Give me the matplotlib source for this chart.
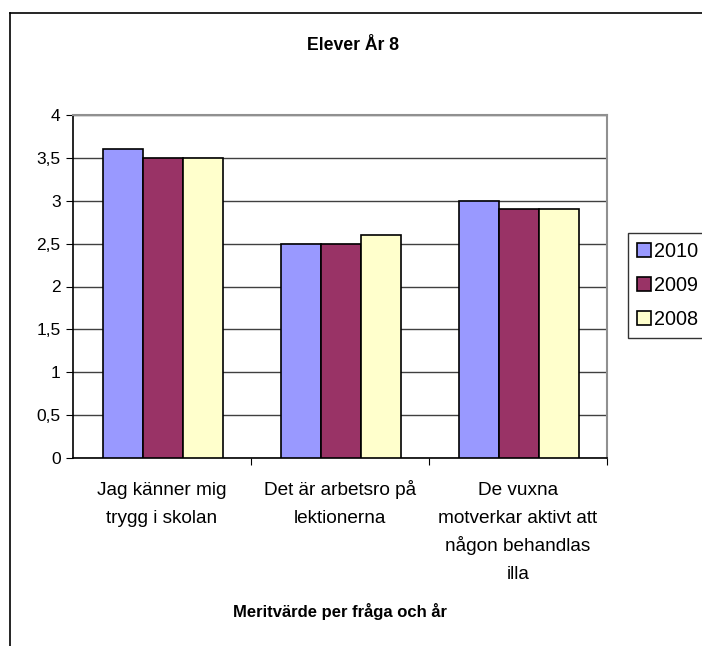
import matplotlib
matplotlib.use("Agg")
import matplotlib.pyplot as plt
from matplotlib.lines import Line2D
import numpy as np

plt.rcParams['font.family'] = ['Liberation Sans', 'DejaVu Sans']

# データ
categories = ["Jag känner mig\ntrygg i skolan",
              "Det är arbetsro på\nlektionerna",
              "De vuxna\nmotverkar aktivt att\nnågon behandlas\nilla"]
years = ["2010", "2009", "2008"]
values = {
    "2010": [3.6, 2.5, 3.0],
    "2009": [3.5, 2.5, 2.9],
    "2008": [3.5, 2.6, 2.9],
}
colors = {"2010": "#9999FF", "2009": "#993366", "2008": "#FFFFCC"}
yticks = [0, 0.5, 1, 1.5, 2, 2.5, 3, 3.5, 4]
yticklabels = ["0", "0,5", "1", "1,5", "2", "2,5", "3", "3,5", "4"]

W, H = 702, 646
fig = plt.figure(figsize=(W / 100, H / 100), dpi=100)

# 外枠
fig.add_artist(Line2D([10 / W, 10 / W], [0, 1 - 13 / H], color="black", lw=1.2))
fig.add_artist(Line2D([10 / W, 1], [1 - 13 / H, 1 - 13 / H], color="black", lw=1.2))

ax = fig.add_axes([73 / W, (H - 458) / H, 534 / W, 343 / H])

x = np.arange(len(categories))
bw = 0.225
for i, y in enumerate(years):
    ax.bar(x + (i - 1) * bw + 0.005, values[y], bw, color=colors[y], edgecolor="black",
           linewidth=1.2, label=y, zorder=3)

ax.set_xlim(-0.5, 2.5)
ax.set_ylim(0, 4)
ax.set_yticks(yticks)
ax.set_yticklabels(yticklabels, fontsize=12.5)
ax.set_xticks([0.5, 1.5, 2.5])
ax.set_xticklabels([])
ax.tick_params(axis="x", which="major", length=5, direction="out")
ax.tick_params(axis="y", length=5, direction="out", pad=4)
ax.grid(axis="y", color="#404040", lw=1, zorder=0)

# カテゴリラベル（行間を一定にするため1行ずつ配置）
for xi, cat in zip(x, categories):
    for k, line in enumerate(cat.split("\n")):
        ax.annotate(line, xy=(xi, 0), xycoords=("data", "axes fraction"),
                    xytext=(0, -(37 + 28 * k) * 0.72), textcoords="offset points",
                    ha="center", va="baseline", fontsize=13.7)

for s in ["top", "right"]:
    ax.spines[s].set_color("#909090")
    ax.spines[s].set_linewidth(1.5)
for s in ["left", "bottom"]:
    ax.spines[s].set_color("black")
    ax.spines[s].set_linewidth(1.2)

fig.text(353 / W, 1 - 45 / H, "Elever År 8", ha="center", va="center",
         fontsize=12.7, fontweight="bold")
fig.text(340 / W, 1 - 611 / H, "Meritvärde per fråga och år", ha="center",
         va="center", fontsize=12, fontweight="bold")

leg = fig.legend(loc="upper left", bbox_to_anchor=(628 / W, 1 - 233 / H),
                 fontsize=14.3, frameon=True, fancybox=False, handlelength=0.7,
                 handleheight=0.7, handletextpad=0.15, labelspacing=0.75,
                 borderpad=0.45, borderaxespad=0)
leg.get_frame().set_edgecolor("black")
leg.get_frame().set_linewidth(1)

plt.savefig("out.png", dpi=100)
